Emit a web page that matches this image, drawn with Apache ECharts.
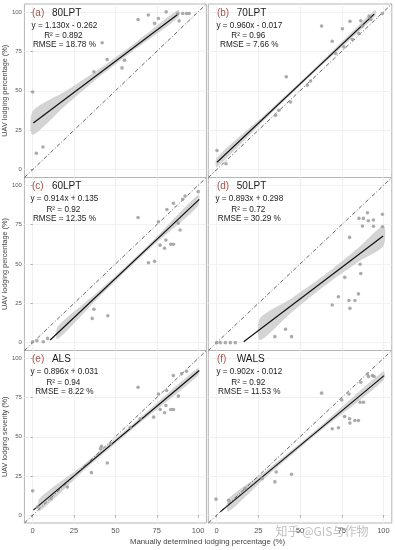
<!DOCTYPE html>
<html><head><meta charset="utf-8">
<script src="https://cdn.jsdelivr.net/npm/echarts@6/dist/echarts.min.js"></script>
<style>html,body{margin:0;padding:0;background:#fff}#c{width:395px;height:550px}</style>
</head><body><div id="c"></div>
<script>
// ---- data ----
const panelLetters = ['(a)', '(b)', '(c)', '(d)', '(e)', '(f)'];
const panelNames = ['80LPT', '70LPT', '60LPT', '50LPT', 'ALS', 'WALS'];
const equations = ['y = 1.130x - 0.262', 'y = 0.960x - 0.017', 'y = 0.914x + 0.135', 'y = 0.893x + 0.298', 'y = 0.896x + 0.031', 'y = 0.902x - 0.012'];
const r2Labels = ['R\u00b2 = 0.892', 'R\u00b2 = 0.96', 'R\u00b2 = 0.92', 'R\u00b2 = 0.72', 'R\u00b2 = 0.94', 'R\u00b2 = 0.92'];
const rmseLabels = ['RMSE = 18.78 %', 'RMSE = 7.66 %', 'RMSE = 12.35 %', 'RMSE = 30.29 %', 'RMSE = 8.22 %', 'RMSE = 11.53 %'];
const yTitles = ['UAV lodging percentage (%)', 'UAV lodging percentage (%)', 'UAV lodging severity (%)'];
const xTitle = 'Manually determined lodging percentage (%)';
const tickValues = [0, 25, 50, 75, 100];
const oneToOne = [[-5, -5], [105, 105]];

const pointsA = [[0,49.2],[2.2,10.4],[6.2,14.3],[37,62],[42,80.4],[45,69.8],[54,64.5],[55.5,69.4],[63.7,95.2],[69.9,98],[73.7,92.7],[76,95.8],[80.7,100],[88.5,94.3],[87.7,99],[90.7,99],[93,99],[94.6,99]];
const pointsB = [[0.2,12.1],[5.6,3.7],[35.3,34.4],[37.3,37.6],[41.7,58.8],[44.3,42.9],[54.3,53.5],[56.3,56.2],[62.9,91],[69.3,81.4],[71.3,73.6],[75.4,89.3],[76.3,77.8],[79.9,94],[81.4,82.5],[85.3,86.3],[86.4,94.4],[87.4,91],[91.4,97.3],[92.4,95.2],[99.4,99]];
const pointsC = [[0,0.6],[2.6,1.2],[6.4,0.6],[9,2.7],[36,15.4],[37,21.2],[45.4,17.1],[63.7,79.6],[70,50.8],[73.7,51.7],[76,76.9],[77,62],[79.7,60],[80.5,65.2],[81.1,84.7],[83.5,62.6],[85.1,62.6],[85.1,88.6],[88,76],[89.1,71.6],[90.7,91.1],[92.1,93.2],[100,96]];
const pointsD = [[0,0],[2.2,0],[5.2,0],[8.2,0],[11.2,0],[34.9,3.8],[41.3,8.5],[44.9,3.8],[69.3,23.9],[73,29.2],[76.8,41.5],[79.3,26.8],[79.9,21.8],[82.9,26.8],[85,31],[86,49.8],[86.4,44],[79.7,66.9],[85.3,79],[88,79],[87.4,74.1],[90.4,82.6],[90.9,77.5],[94,78],[94,74],[99.4,81.6],[99.4,73.7]];
const pointsE = [[0,15.5],[3,5.3],[11,10.6],[21,18],[35.5,27.1],[41,42.4],[41.6,43.9],[45.1,33.3],[47,45.6],[59,56.1],[63.7,81.6],[65,61.5],[73.1,62.5],[76,77.3],[77.1,67.4],[79.7,65.3],[80.5,69.9],[81,79.5],[83.5,67.4],[85.1,67.4],[85,89],[88.1,75.9],[90,90.1],[93,91.8]];
const pointsF = [[-0.4,10.2],[7.2,9.5],[17.2,17],[27.3,23.3],[34.9,21.2],[35.7,27.5],[44.9,26.1],[62.9,77.8],[69.3,55.1],[73,55.7],[75,73.5],[76.7,62.9],[79.3,77.3],[79.7,61.5],[79.9,58.7],[82.9,60.4],[85,60.4],[86,72],[86.4,84.8],[88,72],[90.4,90],[91,88.4],[93.4,89],[94.4,88.4]];

const fitA = [[0.4,29.5],[88,98.6]];
const fitB = [[0.2,4.7],[94.4,98.6]];
const fitC = [[10.6,1.7],[100.7,91.1]];
const fitD = [[16.2,0.6],[99.8,67.8]];
const fitE = [[0.4,3.2],[100.7,92.2]];
const fitF = [[2.2,2.1],[100.4,89]];

const bandXA = [0,20,40,60,88], bandLoA = [22,40.8,58.6,74.8,96.4], bandHiA = [37,49.8,63.6,78.8,101.4];
const bandXB = [0,30,60,95], bandLoB = [1.5,32.9,63.1,97.2], bandHiB = [7.5,35.9,65.5,101.2];
const bandXC = [15,40,70,100], bandLoC = [2.1,28.9,59.1,86.9], bandHiC = [10.1,32.9,62.1,93.9];
const bandXD = [26,45,65,85,100], bandLoD = [1.5,19.3,36.3,51.4,61.4], bandHiD = [15.5,28.3,43.3,60.4,74.4];
const bandXE = [4,30,60,100], bandLoE = [2.4,27.5,54.6,89], bandHiE = [10.4,31.5,57.6,94];
const bandXF = [7,30,60,100], bandLoF = [2.3,24.7,51.8,85.8], bandHiF = [10.3,28.7,54.8,91.8];

const watermark = '知乎 @GIS与作物';

// ---- layout ----
const FONT = 'Liberation Sans, Arial, sans-serif';
const colLeft = [23.4, 208.3], colW = [183, 183.5];
const rowTop = [4, 177.5, 350.5], rowH = [173.5, 173, 172.5];

const pts = [pointsA, pointsB, pointsC, pointsD, pointsE, pointsF];
const fits = [fitA, fitB, fitC, fitD, fitE, fitF];
const bandsX = [bandXA, bandXB, bandXC, bandXD, bandXE, bandXF];
const bandsLo = [bandLoA, bandLoB, bandLoC, bandLoD, bandLoE, bandLoF];
const bandsHi = [bandHiA, bandHiB, bandHiC, bandHiD, bandHiE, bandHiF];

const grid = [], xAxis = [], yAxis = [], series = [], graphic = [];
for (let i = 0; i < 6; i++) {
  const row = Math.floor(i / 2), col = i % 2;
  const gl = colLeft[col], gt = rowTop[row];
  grid.push({left: gl, top: gt, width: colW[col], height: rowH[row], show: true,
    borderColor: '#b5b5b5', borderWidth: 1, backgroundColor: '#fff', containLabel: false});
  xAxis.push({type: 'value', gridIndex: i, min: -5, max: 105,
    axisLine: {show: false},
    axisTick: {show: row === 2, length: 2.5, customValues: tickValues, lineStyle: {color: '#999', width: 0.8}},
    axisLabel: {show: row === 2, customValues: tickValues, fontSize: 7.5, color: '#555', margin: 3.5, fontFamily: FONT},
    splitLine: {show: true, lineStyle: {color: '#eeeeee', width: 0.8}}});
  yAxis.push({type: 'value', gridIndex: i, min: -5, max: 105,
    name: col === 0 ? yTitles[row] : '', nameLocation: 'middle', nameGap: 13,
    nameTextStyle: {fontSize: 7.3, color: '#444', fontFamily: FONT},
    axisLine: {show: false},
    axisTick: {show: col === 0, length: 2, customValues: tickValues, lineStyle: {color: '#999', width: 0.8}},
    axisLabel: {show: col === 0, customValues: tickValues, fontSize: 6, color: '#555', margin: 2.5, fontFamily: FONT},
    splitLine: {show: true, lineStyle: {color: '#eeeeee', width: 0.8}}});
  const bx = bandsX[i], blo = bandsLo[i], bhi = bandsHi[i];
  series.push({type: 'custom', xAxisIndex: i, yAxisIndex: i, clip: true, silent: true, z: 1,
    data: [[bx[0], blo[0]]],
    renderItem: function (params, api) {
      const up = bx.map((x, k) => api.coord([x, bhi[k]]));
      const lo = bx.map((x, k) => api.coord([x, blo[k]])).reverse();
      return {type: 'polygon', shape: {points: up.concat(lo), smooth: 0.25},
        style: {fill: '#cccccc', opacity: 0.85}};
    }});
  series.push({type: 'line', xAxisIndex: i, yAxisIndex: i, data: oneToOne, symbol: 'none', z: 2, silent: true,
    clip: true, lineStyle: {color: '#555', width: 0.9, type: [4, 2, 1, 2]}});
  series.push({type: 'line', xAxisIndex: i, yAxisIndex: i, data: fits[i], symbol: 'none', z: 3, silent: true,
    lineStyle: {color: '#111', width: 1.2}});
  series.push({type: 'scatter', xAxisIndex: i, yAxisIndex: i, data: pts[i], symbolSize: 3.6, z: 4, silent: true,
    itemStyle: {color: '#9c9c9c', opacity: 0.85}});

  graphic.push({type: 'text', x: gl + 8.6, y: gt + 9, z: 10, style: {text: panelLetters[i], fontSize: 10, fontFamily: FONT, fill: '#a5524c', verticalAlign: 'middle', align: 'left'}});
  graphic.push({type: 'text', x: gl + 28.5, y: gt + 9, z: 10, style: {text: panelNames[i], fontSize: 10, fontFamily: FONT, fill: '#1a1a1a', verticalAlign: 'middle', align: 'left'}});
  graphic.push({type: 'text', x: gl + 41, y: gt + 21.5, z: 10, style: {text: equations[i], fontSize: 8.2, fontFamily: FONT, fill: '#222', verticalAlign: 'middle', align: 'center'}});
  graphic.push({type: 'text', x: gl + 40, y: gt + 32, z: 10, style: {text: r2Labels[i], fontSize: 8.2, fontFamily: FONT, fill: '#222', verticalAlign: 'middle', align: 'center'}});
  graphic.push({type: 'text', x: gl + 41, y: gt + 41, z: 10, style: {text: rmseLabels[i], fontSize: 8.2, fontFamily: FONT, fill: '#222', verticalAlign: 'middle', align: 'center'}});
}
graphic.push({type: 'text', x: 207.5, y: 542, z: 10, style: {text: xTitle, fontSize: 7.8, fontFamily: FONT, fill: '#444', verticalAlign: 'middle', align: 'center'}});
graphic.push({type: 'text', x: 322, y: 531, z: 20, style: {text: watermark, fontSize: 12, fontFamily: 'Noto Sans CJK SC, sans-serif', fill: 'rgba(140,140,140,0.55)', verticalAlign: 'middle', align: 'center'}});

const chart = echarts.init(document.getElementById('c'), null, {renderer: 'canvas'});
chart.setOption({animation: false, backgroundColor: '#fff', grid, xAxis, yAxis, series, graphic});
</script></body></html>
